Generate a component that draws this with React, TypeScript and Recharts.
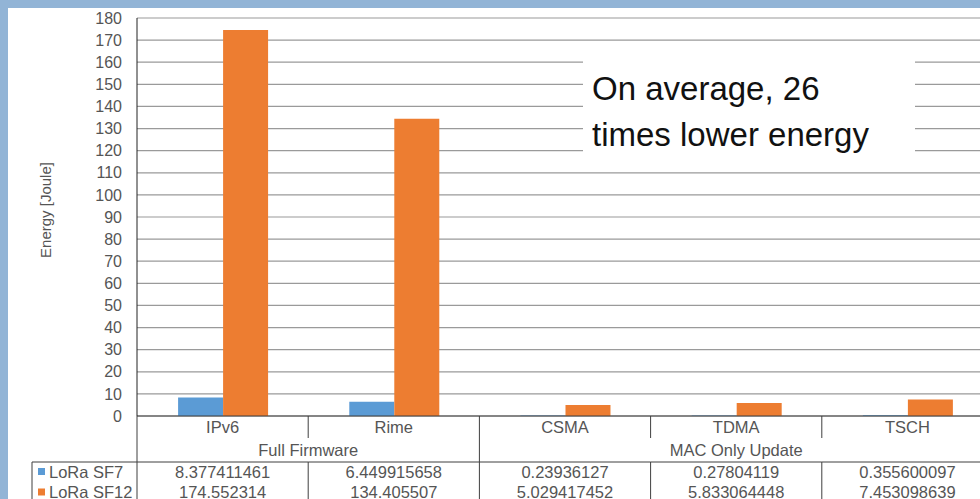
import { BarChart, Bar, XAxis, YAxis, CartesianGrid } from "recharts";

// energy per update, LoRa SF7 vs SF12
const CATEGORIES = ["IPv6", "Rime", "CSMA", "TDMA", "TSCH"];
const GROUPS = [
  { label: "Full Firmware", size: 2 },
  { label: "MAC Only Update", size: 3 },
];
const SERIES = ["LoRa SF7", "LoRa SF12"];
const SF7 = [8.377411461, 6.449915658, 0.23936127, 0.27804119, 0.355600097];
const SF12 = [174.552314, 134.405507, 5.029417452, 5.833064448, 7.453098639];
const Y_TICKS = [0, 10, 20, 30, 40, 50, 60, 70, 80, 90, 100, 110, 120, 130, 140, 150, 160, 170, 180];

const BLUE = "#5b9bd5";
const ORANGE = "#ed7d31";
const TEXT = "#555555";
const RULE = "#3f3f3f";
const FONT = "'Liberation Sans', Arial, sans-serif";

const W = 1010;
const H = 520;
const MARGIN = { top: 18, right: 17, bottom: 0, left: 0 };
const Y_AXIS_W = 137;
const PLOT_BOTTOM = 416;
const X_AXIS_H = H - MARGIN.bottom - PLOT_BOTTOM;
const BAND = (W - MARGIN.left - MARGIN.right - Y_AXIS_W) / CATEGORIES.length;

// rows of the data table under the axis
const CAT_Y = 427;
const CAT_DIV_END = 438;
const GROUP_Y = 450;
const RULE_Y = 462;
const ROW_Y = [471.5, 492];
const LEGEND_LEFT = 32;
const TABLE_FONT = 16.5;

const data = CATEGORIES.map((name, i) => ({ name, sf7: SF7[i], sf12: SF12[i] }));

// group membership of each category
const groupInfo = (() => {
  const out: { group: number; first: boolean; last: boolean }[] = [];
  GROUPS.forEach((g, gi) => {
    for (let k = 0; k < g.size; k++) out.push({ group: gi, first: k === 0, last: k === g.size - 1 });
  });
  return out;
})();

function TableTick(props: any) {
  const { x, index } = props;
  const left = x - BAND / 2;
  const right = x + BAND / 2;
  const info = groupInfo[index];
  const g = GROUPS[info.group];
  const values = [SF7[index], SF12[index]];
  const txt = {
    fontFamily: FONT,
    fontSize: TABLE_FONT,
    fill: TEXT,
    textAnchor: "middle" as const,
    dominantBaseline: "central" as const,
  };

  return (
    <g>
      <text x={x} y={CAT_Y} {...txt}>{CATEGORIES[index]}</text>
      {info.first && (
        <text x={left + (g.size * BAND) / 2} y={GROUP_Y} {...txt}>{g.label}</text>
      )}
      {index === 0 && <line x1={left} x2={left} y1={PLOT_BOTTOM} y2={H} stroke={RULE} />}
      {info.last ? (
        <line x1={right} x2={right} y1={PLOT_BOTTOM} y2={H} stroke={RULE} />
      ) : (
        <>
          <line x1={right} x2={right} y1={PLOT_BOTTOM} y2={CAT_DIV_END} stroke={RULE} />
          <line x1={right} x2={right} y1={RULE_Y} y2={H} stroke={RULE} />
        </>
      )}
      <line x1={left} x2={right} y1={RULE_Y} y2={RULE_Y} stroke={RULE} />
      {values.map((v, r) => (
        <text key={r} x={x} y={ROW_Y[r]} {...txt}>{String(v)}</text>
      ))}
      {index === 0 && (
        <g>
          <line x1={LEGEND_LEFT} x2={left} y1={RULE_Y} y2={RULE_Y} stroke={RULE} />
          <line x1={LEGEND_LEFT} x2={LEGEND_LEFT} y1={RULE_Y} y2={H} stroke={RULE} />
          {SERIES.map((s, r) => (
            <g key={s}>
              <rect x={LEGEND_LEFT + 6} y={ROW_Y[r] - 3.5} width={7} height={7} fill={r === 0 ? BLUE : ORANGE} />
              <text
                x={LEGEND_LEFT + 17}
                y={ROW_Y[r]}
                fontFamily={FONT}
                fontSize={TABLE_FONT}
                fill={TEXT}
                dominantBaseline="central"
              >
                {s}
              </text>
            </g>
          ))}
        </g>
      )}
    </g>
  );
}

// rotated axis title, sitting left of the tick labels
function EnergyLabel(props: any) {
  const { viewBox } = props;
  const cx = 45;
  const cy = viewBox.y + viewBox.height / 2 - 7;
  return (
    <text
      x={cx}
      y={cy}
      transform={`rotate(-90, ${cx}, ${cy})`}
      textAnchor="middle"
      dominantBaseline="central"
      fontFamily={FONT}
      fontSize={15}
      fill={TEXT}
    >
      Energy [Joule]
    </text>
  );
}

export default function App() {
  return (
    <div style={{ position: "absolute", left: 0, top: 0, width: 980, height: 499, overflow: "hidden", background: "#92b4d6" }}>
      <div style={{ position: "absolute", left: 8, top: 8, width: 1000, height: 520, background: "#ffffff" }} />
      <div style={{ position: "absolute", left: 0, top: 0 }}>
        <BarChart width={W} height={H} data={data} margin={MARGIN} barCategoryGap="24%" barGap={0}>
          <CartesianGrid horizontal vertical={false} stroke="#9a9a9a" strokeWidth={1.2} />
          <XAxis
            dataKey="name"
            height={X_AXIS_H}
            interval={0}
            tickLine={false}
            tickSize={0}
            tickMargin={0}
            axisLine={{ stroke: RULE }}
            tick={<TableTick />}
          />
          <YAxis
            width={Y_AXIS_W}
            domain={[0, 180]}
            ticks={Y_TICKS}
            interval={0}
            tickLine={false}
            tickSize={0}
            tickMargin={15}
            axisLine={{ stroke: "#222222" }}
            tick={{ fontFamily: FONT, fontSize: 16, fill: TEXT }}
            label={<EnergyLabel />}
          />
          <Bar dataKey="sf7" name={SERIES[0]} fill={BLUE} isAnimationActive={false} />
          <Bar dataKey="sf12" name={SERIES[1]} fill={ORANGE} isAnimationActive={false} />
        </BarChart>
      </div>
      <div
        style={{
          position: "absolute",
          left: 583,
          top: 55,
          width: 332,
          height: 106,
          background: "#ffffff",
          boxSizing: "border-box",
          paddingLeft: 9,
          paddingTop: 11,
          fontFamily: FONT,
          fontSize: 33,
          lineHeight: "46px",
          color: "#111111",
        }}
      >
        <div>On average, 26</div>
        <div>times lower energy</div>
      </div>
    </div>
  );
}
